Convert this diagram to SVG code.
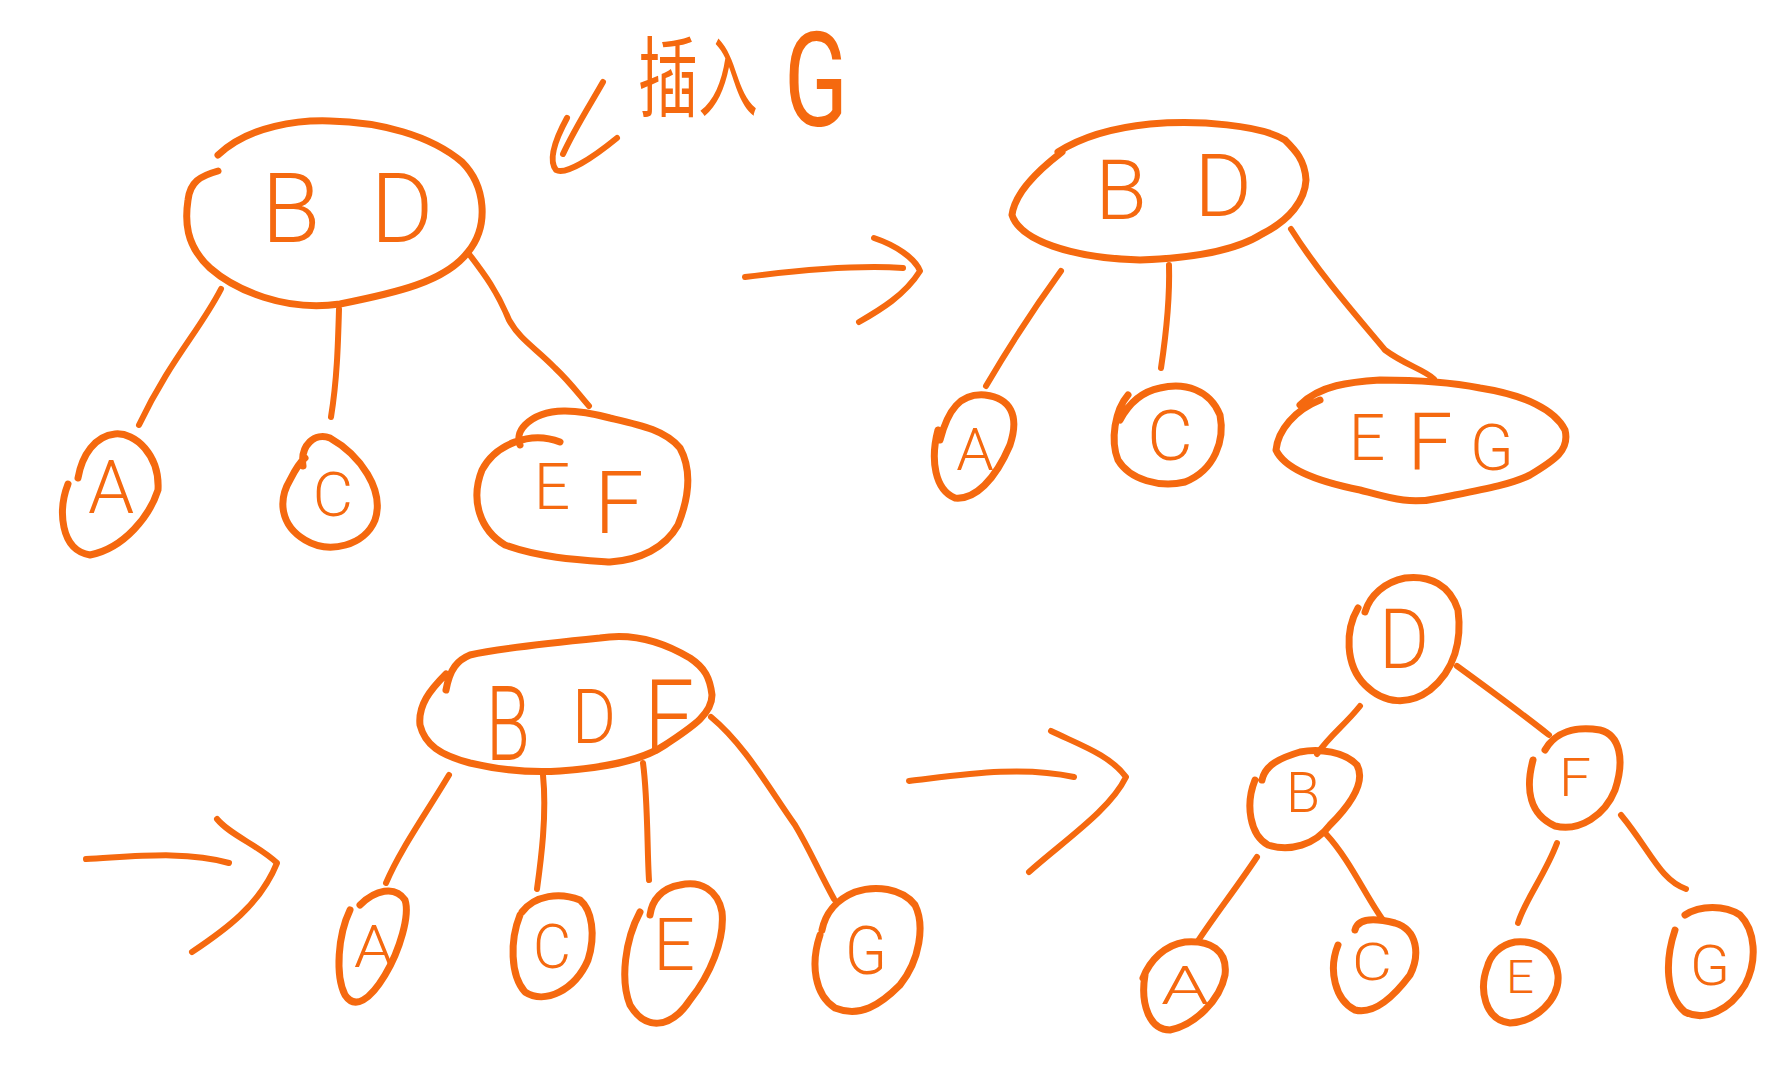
<svg xmlns="http://www.w3.org/2000/svg" width="1792" height="1071" viewBox="0 0 1792 1071">
<style>
.s{fill:none;stroke:#f5690f;stroke-width:7;stroke-linecap:round;stroke-linejoin:round}
.l{fill:none;stroke:#f5690f;stroke-width:6;stroke-linecap:round;stroke-linejoin:round}
.t{fill:#f5690f;font-family:Roboto,"Liberation Sans","Noto Sans CJK SC",sans-serif;font-weight:300;text-anchor:middle}
.h{fill:#f5690f;font-family:"Noto Sans CJK SC",sans-serif;font-weight:400}
.g{fill:#f5690f;font-family:Roboto,"Liberation Sans",sans-serif;font-weight:400}
</style>
<rect width="1792" height="1071" fill="#fff"/>

<!-- title -->
<g id="title">
<path class="l" d="M603,82 C590,105 575,128 563,154"/>
<path class="l" d="M567,118 C555,140 548,160 556,170 C565,175 590,160 617,138"/>
<text class="h" transform="translate(638,110) scale(1,1.45)" font-size="60">插入</text>
<text class="g" transform="translate(784,126) scale(1,1.4)" font-size="94">G</text>
</g>

<!-- connectors -->
<g id="connectors">
<!-- panel 1 -->
<path class="l" d="M221,289 C200,330 170,360 139,425"/>
<path class="l" d="M339,309 C338,345 337,380 331,417"/>
<path class="l" d="M469,254 C485,275 497,291 509,320 C520,340 537,349 555,368 C571,383 580,396 589,406"/>
<!-- panel 2 -->
<path class="l" d="M1061,271 C1040,300 1010,345 986,386"/>
<path class="l" d="M1169,265 C1170,300 1166,335 1161,368"/>
<path class="l" d="M1291,229 C1320,275 1360,320 1385,350 C1405,365 1425,370 1434,379"/>
<!-- panel 3 -->
<path class="l" d="M449,775 C425,815 400,850 386,883"/>
<path class="l" d="M543,775 C547,815 541,860 537,889"/>
<path class="l" d="M643,763 C648,800 647,850 649,880"/>
<path class="l" d="M711,717 C745,745 770,790 795,825 C810,850 818,870 834,899"/>
<!-- panel 4 -->
<path class="l" d="M1360,706 C1345,725 1330,735 1317,754"/>
<path class="l" d="M1457,666 C1490,690 1520,712 1549,735"/>
<path class="l" d="M1257,857 C1235,890 1215,915 1198,941"/>
<path class="l" d="M1326,834 C1350,860 1365,895 1383,920"/>
<path class="l" d="M1557,843 C1545,875 1525,900 1518,923"/>
<path class="l" d="M1621,815 C1650,850 1660,880 1686,889"/>
<!-- transition arrows -->
<path class="l" d="M745,277 C800,270 860,265 903,268"/>
<path class="l" d="M874,238 C895,245 915,258 920,271 C905,295 880,310 859,322"/>
<path class="l" d="M86,859 C130,857 185,850 229,863"/>
<path class="l" d="M217,819 C230,835 258,845 277,863 C260,905 225,930 192,952"/>
<path class="l" d="M909,781 C960,775 1020,765 1074,777"/>
<path class="l" d="M1051,731 C1080,745 1110,755 1126,777 C1110,810 1065,840 1029,872"/>
</g>

<!-- panel 1 -->
<g id="p1-BD">
<path class="s" d="M218,155 C250,125 300,120 330,121 C380,122 430,135 462,162 C485,185 490,225 468,252 C445,282 395,293 340,304 C285,312 235,290 210,268 C185,245 185,220 188,200 C190,182 200,176 218,171"/>
<text class="t" x="291" y="242" font-size="96">B</text>
<text class="t" x="402" y="242" font-size="96">D</text>
</g>
<g id="p1-A">
<path class="s" d="M68,484 C58,510 60,550 90,555 C125,548 150,515 158,490 C160,455 135,432 115,434 C95,436 82,455 78,478"/>
<text class="t" x="111" y="513" font-size="74">A</text>
</g>
<g id="p1-C">
<path class="s" d="M303,466 C300,445 315,432 330,438 C360,455 385,490 375,520 C365,545 330,555 305,540 C280,525 278,500 290,480 C295,470 300,462 305,458"/>
<text class="t" x="333" y="516" font-size="62">C</text>
</g>
<g id="p1-EF">
<path class="s" d="M560,442 C530,430 495,445 482,470 C470,500 480,530 505,545 C540,558 580,560 610,562 C640,560 665,548 678,525 C690,495 692,470 680,448 C665,430 640,425 610,418 C580,410 545,405 525,425 C518,432 518,440 520,445"/>
<text class="t" x="552" y="509" font-size="64">E</text>
<text class="t" x="619" y="533" font-size="88">F</text>
</g>

<!-- panel 2 -->
<g id="p2-BD">
<path class="s" d="M1062,152 C1045,165 1015,190 1012,215 C1020,240 1070,258 1140,260 C1200,258 1240,248 1262,234 C1290,220 1305,200 1306,180 C1305,160 1295,150 1285,140 C1260,125 1200,120 1150,124 C1110,128 1080,138 1058,152"/>
<text class="t" x="1121" y="219" font-size="84">B</text>
<text class="t" x="1223" y="216" font-size="88">D</text>
</g>
<g id="p2-A">
<path class="s" d="M938,430 C930,460 935,490 955,498 C975,500 995,480 1010,445 C1020,415 1010,398 985,395 C960,393 948,410 940,440"/>
<text class="t" x="975" y="470" font-size="60">A</text>
</g>
<g id="p2-C">
<path class="s" d="M1128,395 C1115,410 1110,440 1118,460 C1130,480 1160,488 1185,482 C1215,470 1225,440 1220,415 C1210,390 1185,382 1160,388 C1140,392 1128,405 1120,420"/>
<text class="t" x="1170" y="460" font-size="70">C</text>
</g>
<g id="p2-EFG">
<path class="s" d="M1320,400 C1295,410 1278,430 1276,450 C1285,470 1320,482 1360,490 C1390,498 1410,505 1440,498 C1480,490 1510,485 1530,475 C1555,460 1570,450 1565,430 C1555,410 1525,395 1480,388 C1450,382 1410,380 1380,380 C1350,382 1320,385 1300,405"/>
<text class="t" x="1367" y="460" font-size="64">E</text>
<text class="t" x="1430" y="470" font-size="80">F</text>
<text class="t" x="1492" y="470" font-size="64">G</text>
</g>

<!-- panel 3 -->
<g id="p3-BDF">
<path class="s" d="M446,674 C430,690 418,705 420,725 C425,745 440,755 470,763 C500,770 530,773 560,771 C600,768 640,762 665,745 C690,728 712,715 712,695 C710,678 705,668 690,658 C660,640 630,633 600,638 C560,642 500,648 470,655 C458,660 450,668 446,690"/>
<text class="t" x="508" y="760" font-size="104" textLength="44" lengthAdjust="spacingAndGlyphs">B</text>
<text class="t" x="594" y="743" font-size="76" textLength="44" lengthAdjust="spacingAndGlyphs">D</text>
<text class="t" x="669" y="754" font-size="104" textLength="50" lengthAdjust="spacingAndGlyphs">F</text>
</g>
<g id="p3-A">
<path class="s" d="M350,910 C338,935 335,975 345,995 C355,1010 370,1000 385,975 C400,950 410,915 405,900 C395,885 375,890 360,905"/>
<text class="t" x="374" y="967" font-size="60" textLength="40" lengthAdjust="spacingAndGlyphs">A</text>
</g>
<g id="p3-C">
<path class="s" d="M520,915 C510,940 510,975 525,992 C545,1005 575,990 588,960 C596,935 592,910 580,900 C560,892 535,895 522,912"/>
<text class="t" x="552" y="968" font-size="62" textLength="38" lengthAdjust="spacingAndGlyphs">C</text>
</g>
<g id="p3-E">
<path class="s" d="M640,912 C625,940 620,980 630,1005 C645,1030 670,1030 690,1000 C710,975 725,940 722,912 C718,890 700,880 680,885 C662,888 652,900 650,915"/>
<text class="t" x="674" y="970" font-size="72" textLength="42" lengthAdjust="spacingAndGlyphs">E</text>
</g>
<g id="p3-G">
<path class="s" d="M820,935 C810,965 815,995 835,1008 C860,1018 880,1005 900,985 C920,960 925,925 915,905 C902,888 875,885 855,892 C835,900 825,915 822,930"/>
<text class="t" x="866" y="974" font-size="66" textLength="42" lengthAdjust="spacingAndGlyphs">G</text>
</g>

<!-- panel 4 -->
<g id="p4-D">
<path class="s" d="M1358,608 C1345,630 1345,665 1365,685 C1385,705 1410,705 1430,690 C1455,670 1462,640 1458,610 C1450,585 1430,575 1405,578 C1385,582 1370,595 1365,612"/>
<text class="t" x="1404" y="668" font-size="84" textLength="50" lengthAdjust="spacingAndGlyphs">D</text>
</g>
<g id="p4-B">
<path class="s" d="M1255,780 C1245,805 1250,835 1268,845 C1290,852 1315,845 1330,825 C1355,800 1365,780 1357,765 C1345,752 1320,748 1300,752 C1280,758 1265,765 1262,780"/>
<text class="t" x="1303" y="812" font-size="56" textLength="34" lengthAdjust="spacingAndGlyphs">B</text>
</g>
<g id="p4-F">
<path class="s" d="M1533,760 C1525,790 1530,815 1555,826 C1580,832 1605,815 1615,790 C1625,760 1620,735 1600,730 C1575,726 1555,732 1545,750"/>
<text class="t" x="1575" y="796" font-size="54" textLength="32" lengthAdjust="spacingAndGlyphs">F</text>
</g>
<g id="p4-A">
<path class="s" d="M1145,975 C1140,1005 1150,1030 1170,1030 C1195,1025 1220,1000 1225,975 C1228,950 1210,940 1185,942 C1165,945 1150,960 1143,978"/>
<text class="t" x="1185" y="1004" font-size="54" textLength="48" lengthAdjust="spacingAndGlyphs">A</text>
</g>
<g id="p4-C">
<path class="s" d="M1338,945 C1328,970 1335,1000 1355,1010 C1375,1015 1395,995 1410,975 C1420,955 1418,930 1395,923 C1375,918 1358,918 1355,930"/>
<text class="t" x="1372" y="980" font-size="52" textLength="40" lengthAdjust="spacingAndGlyphs">C</text>
</g>
<g id="p4-E">
<path class="s" d="M1488,965 C1478,990 1485,1020 1510,1023 C1535,1022 1560,1000 1558,975 C1555,950 1535,940 1515,942 C1500,945 1490,955 1487,968"/>
<text class="t" x="1520" y="993" font-size="46" textLength="28" lengthAdjust="spacingAndGlyphs">E</text>
</g>
<g id="p4-G">
<path class="s" d="M1675,930 C1665,960 1665,995 1685,1012 C1705,1022 1730,1010 1745,985 C1758,960 1755,930 1740,915 C1725,905 1700,905 1685,915"/>
<text class="t" x="1710" y="985" font-size="56" textLength="40" lengthAdjust="spacingAndGlyphs">G</text>
</g>
</svg>
